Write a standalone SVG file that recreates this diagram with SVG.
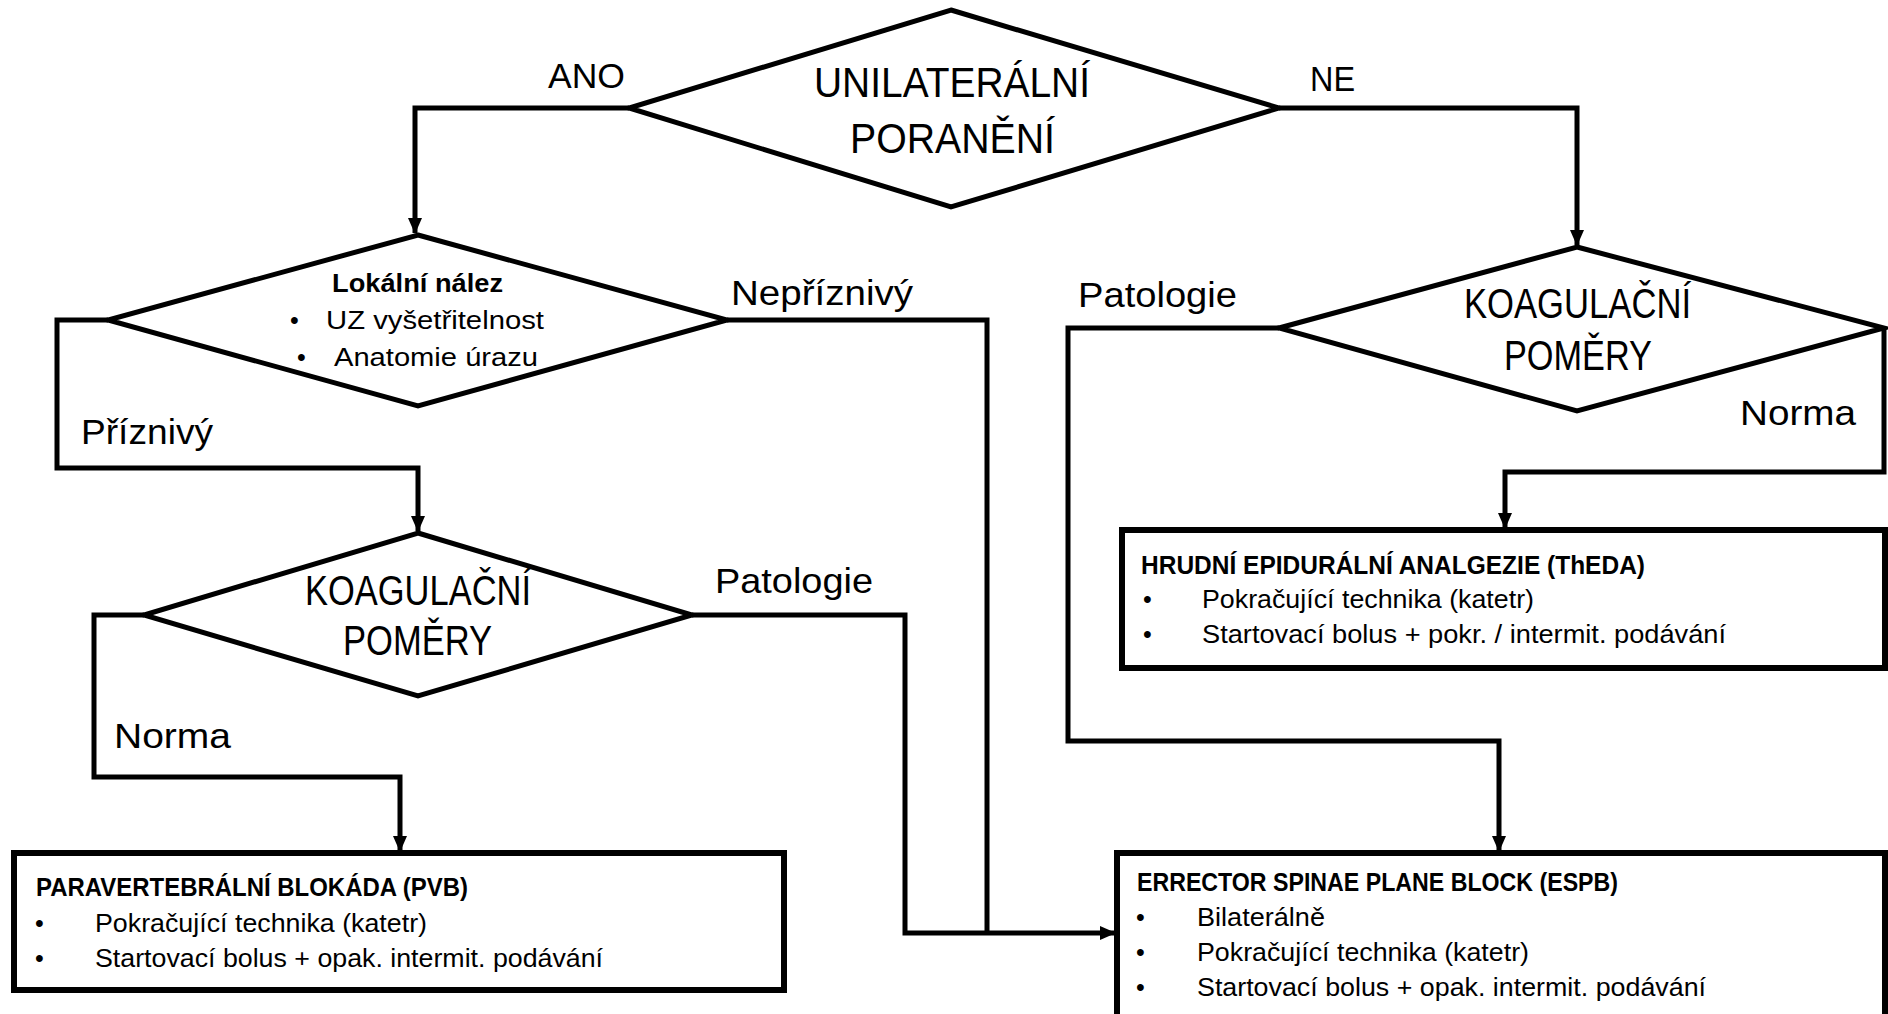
<svg xmlns="http://www.w3.org/2000/svg" width="1888" height="1014" viewBox="0 0 1888 1014">
<defs>
<style>
.sh{fill:#fff;stroke:#000;stroke-width:5;stroke-linejoin:miter}
.bx{fill:#fff;stroke:#000;stroke-width:6}
.cn{fill:none;stroke:#000;stroke-width:5;stroke-linejoin:miter}
text{font-family:"Liberation Sans",Arial,sans-serif;fill:#000}
.big{font-size:42px}
.lbl{font-size:35px}
.sm{font-size:25px}
.b{font-weight:bold}
</style>
<marker id="arr" markerUnits="userSpaceOnUse" markerWidth="16" markerHeight="16" viewBox="0 0 16 16" refX="15" refY="8" orient="auto">
<path d="M0,1 L16,8 L0,15 z" fill="#000"/>
</marker>
</defs>
<rect width="1888" height="1014" fill="#fff"/>
<g id="connectors">
<path class="cn" d="M629,108 H415 V233" marker-end="url(#arr)"/>
<path class="cn" d="M1279,108 H1577 V245" marker-end="url(#arr)"/>
<path class="cn" d="M727,320 H987 V933"/>
<path class="cn" d="M108,320 H57 V468 H418 V531" marker-end="url(#arr)"/>
<path class="cn" d="M692,615 H905 V933 H1115" marker-end="url(#arr)"/>
<path class="cn" d="M144,615 H94 V777 H400 V851" marker-end="url(#arr)"/>
<path class="cn" d="M1279,328 H1068 V741 H1499 V851" marker-end="url(#arr)"/>
<path class="cn" d="M1884,328 V472 H1505 V528" marker-end="url(#arr)"/>
<text class="lbl" x="548" y="88" textLength="77" lengthAdjust="spacingAndGlyphs">ANO</text>
<text class="lbl" x="1310" y="91" textLength="45" lengthAdjust="spacingAndGlyphs">NE</text>
<text class="lbl" x="731" y="305" textLength="182" lengthAdjust="spacingAndGlyphs">Nepříznivý</text>
<text class="lbl" x="81" y="444" textLength="132" lengthAdjust="spacingAndGlyphs">Příznivý</text>
<text class="lbl" x="715" y="593" textLength="158" lengthAdjust="spacingAndGlyphs">Patologie</text>
<text class="lbl" x="114" y="748" textLength="117" lengthAdjust="spacingAndGlyphs">Norma</text>
<text class="lbl" x="1078" y="307" textLength="159" lengthAdjust="spacingAndGlyphs">Patologie</text>
<text class="lbl" x="1740" y="425" textLength="116" lengthAdjust="spacingAndGlyphs">Norma</text>
</g>
<g id="unilateralni">
<polygon class="sh" points="951,10 1279,108 951,207 629,108"/>
<text class="big" x="814" y="97" textLength="276" lengthAdjust="spacingAndGlyphs">UNILATERÁLNÍ</text>
<text class="big" x="850" y="153" textLength="205" lengthAdjust="spacingAndGlyphs">PORANĚNÍ</text>
</g>
<g id="lokalni">
<polygon class="sh" points="418,235 727,320 418,406 108,320"/>
<text class="sm b" x="332" y="292" textLength="171" lengthAdjust="spacingAndGlyphs">Lokální nález</text>
<text class="sm" x="290" y="329">•</text>
<text class="sm" x="326" y="329" textLength="218" lengthAdjust="spacingAndGlyphs">UZ vyšetřitelnost</text>
<text class="sm" x="297" y="366">•</text>
<text class="sm" x="334" y="366" textLength="204" lengthAdjust="spacingAndGlyphs">Anatomie úrazu</text>
</g>
<g id="koag-left">
<polygon class="sh" points="418,533 692,615 418,696 144,615"/>
<text class="big" x="305" y="605" textLength="226" lengthAdjust="spacingAndGlyphs">KOAGULAČNÍ</text>
<text class="big" x="343" y="655" textLength="149" lengthAdjust="spacingAndGlyphs">POMĚRY</text>
</g>
<g id="koag-right">
<polygon class="sh" points="1577,247 1884,328 1577,411 1279,328"/>
<text class="big" x="1464" y="318" textLength="227" lengthAdjust="spacingAndGlyphs">KOAGULAČNÍ</text>
<text class="big" x="1504" y="370" textLength="148" lengthAdjust="spacingAndGlyphs">POMĚRY</text>
</g>
<g id="pvb">
<rect class="bx" x="14" y="853" width="770" height="137"/>
<text class="sm b" x="36" y="896" textLength="432" lengthAdjust="spacingAndGlyphs">PARAVERTEBRÁLNÍ BLOKÁDA (PVB)</text>
<text class="sm" x="35" y="932">•</text>
<text class="sm" x="95" y="932" textLength="332" lengthAdjust="spacingAndGlyphs">Pokračující technika (katetr)</text>
<text class="sm" x="35" y="967">•</text>
<text class="sm" x="95" y="967" textLength="508" lengthAdjust="spacingAndGlyphs">Startovací bolus + opak. intermit. podávání</text>
</g>
<g id="theda">
<rect class="bx" x="1122" y="530" width="763" height="138"/>
<text class="sm b" x="1141" y="574" textLength="504" lengthAdjust="spacingAndGlyphs">HRUDNÍ EPIDURÁLNÍ ANALGEZIE (ThEDA)</text>
<text class="sm" x="1143" y="608">•</text>
<text class="sm" x="1202" y="608" textLength="332" lengthAdjust="spacingAndGlyphs">Pokračující technika (katetr)</text>
<text class="sm" x="1143" y="643">•</text>
<text class="sm" x="1202" y="643" textLength="524" lengthAdjust="spacingAndGlyphs">Startovací bolus + pokr. / intermit. podávání</text>
</g>
<g id="espb">
<rect class="bx" x="1117" y="853" width="768" height="175"/>
<text class="sm b" x="1137" y="891" textLength="481" lengthAdjust="spacingAndGlyphs">ERRECTOR SPINAE PLANE BLOCK (ESPB)</text>
<text class="sm" x="1136" y="926">•</text>
<text class="sm" x="1197" y="926" textLength="128" lengthAdjust="spacingAndGlyphs">Bilaterálně</text>
<text class="sm" x="1136" y="961">•</text>
<text class="sm" x="1197" y="961" textLength="332" lengthAdjust="spacingAndGlyphs">Pokračující technika (katetr)</text>
<text class="sm" x="1136" y="996">•</text>
<text class="sm" x="1197" y="996" textLength="509" lengthAdjust="spacingAndGlyphs">Startovací bolus + opak. intermit. podávání</text>
</g>
</svg>
